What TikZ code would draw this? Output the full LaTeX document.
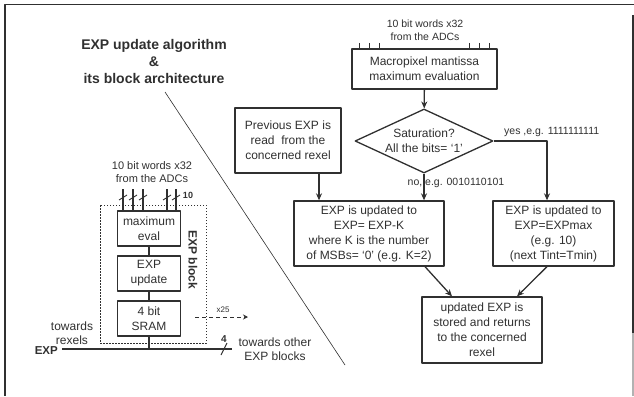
\documentclass[tikz,border=0pt]{standalone}
\usepackage{fontspec}
\setmainfont{Liberation Sans}
\usetikzlibrary{arrows.meta,shapes.geometric}
\definecolor{ink}{HTML}{303030}
\tikzset{
  txt/.style={font=\fontsize{12}{15}\selectfont, text=ink, align=center, inner sep=0pt},
  small/.style={font=\fontsize{10.5}{12.5}\selectfont, text=ink, align=center, inner sep=0pt},
  box/.style={txt, draw=ink, line width=1.3pt},
  sbox/.style={box, minimum width=63pt, minimum height=35pt},
  arr/.style={draw=ink, line width=1.3pt, -{Stealth[length=7pt,width=6pt]}},
  wire/.style={draw=ink, line width=1.6pt},
}
\begin{document}
\begin{tikzpicture}[x=1pt, y=-1pt, line join=round]
\useasboundingbox (0,0) rectangle (634,396);
% frame
\draw[line width=1.8pt, ink] (634,4.5) -- (5,4.5) -- (5,396);
\draw[line width=1.5pt, ink] (633,15) -- (633,333);
\draw[line width=1.5pt, black!30] (633,333) -- (633,396);

% title and diagonal
\node[font=\fontsize{14}{17}\selectfont\bfseries, text=ink, align=center, inner sep=0pt] (title) at (154,61)
  {EXP update algorithm\\\&\\its block architecture};
\coordinate (d1) at (165,92); \coordinate (d2) at (345,365);
\draw[ink, line width=0.6pt] (d1) -- (d2);

% flowchart
\node[small] (adc) at (425,30) {10 bit words x32\\from the ADCs};
\node[box, minimum width=145pt, minimum height=40pt] (macro) at (424.5,69) {Macropixel mantissa\\maximum evaluation};
\foreach \x in {359,369,379,469,479,489} \draw[ink, line width=0.8pt] (\x,43) -- (\x,43 |- macro.north);
\node[box, shape=diamond, aspect=2.15, minimum width=138pt, minimum height=64pt] (sat) at (424,141) {Saturation?\\All the bits= ‘1’};
\node[box, minimum width=106pt, minimum height=65pt] (prev) at (288,140.5) {Previous EXP is\\read\ \ from the\\concerned rexel};
\node[box, minimum width=150pt, minimum height=65pt] (upk) at (369,233.5) {EXP is updated to\\EXP= EXP-K\\where K is the number\\of MSBs= ‘0’ (e.g. K=2)};
\node[box, minimum width=121pt, minimum height=65pt] (upmax) at (553.5,233.5) {EXP is updated to\\EXP=EXPmax\\(e.g. 10)\\(next Tint=Tmin)};
\node[box, minimum width=120pt, minimum height=66pt] (store) at (482,330) {updated EXP is\\stored and returns\\to the concerned\\rexel};

\draw[arr] (macro) -- (sat);
\draw[arr] (sat.south) -- (sat.south |- upk.north);
\draw[arr] (sat.east) -| ([xshift=-6.5pt]upmax.north);
\draw[arr] ([xshift=31pt]prev.south) -- ([xshift=31pt]prev.south |- upk.north);
\draw[arr] ([xshift=56pt]upk.south) -- ([xshift=-30pt]store.north);
\draw[arr] ([xshift=-6.5pt]upmax.south) -- ([xshift=35pt]store.north);
\node[small, anchor=south west] (yes) at (504,137) {yes ,e.g. 1111111111};
\node[small] (no) at (456,183) {no, e.g. 0010110101};

% block architecture
\node[small, font=\fontsize{11}{13}\selectfont] (adc2) at (152,172.5) {10 bit words x32\\from the ADCs};
\draw[ink, line width=0.9pt, dash pattern=on 1.5pt off 1.5pt] (100,205) rectangle (206,343);
\node[sbox] (maxev) at (149,228.5) {maximum\\eval};
\node[sbox] (upd) at (149,273.5) {EXP\\update};
\node[sbox] (sram) at (149,318.5) {4 bit\\SRAM};
\foreach \x in {123,133,143,167,176} {
  \draw[wire] (\x,189) -- (\x,189 |- maxev.north);
  \draw[ink, line width=0.9pt] (\x-4,200) -- (\x+4,195);
}
\node[font=\fontsize{9}{9}\selectfont\bfseries, text=ink, inner sep=0pt] (ten) at (188,195) {10};
\node[font=\fontsize{12}{12}\selectfont\bfseries, text=ink, rotate=-90, inner sep=0pt] (blk) at (193,260) {EXP block};
\draw[wire] (maxev) -- (upd);
\draw[wire] (upd) -- (sram);

\coordinate (busL) at (62,349); \coordinate (busR) at (232,349);
\draw[ink, line width=2.6pt] (busL) -- (busR);
\draw[wire] (sram.south) -- (sram.south |- busL);
\draw[ink, line width=1pt] (221,355) -- (227,343);
\node[font=\fontsize{10}{10}\selectfont\bfseries, text=ink, inner sep=0pt] (four) at (224,339) {4};
\node[font=\fontsize{11.5}{11.5}\selectfont\bfseries, text=ink, anchor=east, inner sep=0pt] (exp) at (58,351) {EXP};
\node[txt, font=\fontsize{12}{14}\selectfont] (torex) at (72,333) {towards\\rexels};
\node[txt, font=\fontsize{12}{14}\selectfont] (tooth) at (275,349) {towards other\\EXP blocks};

\coordinate (x1) at (195,317); \coordinate (x2) at (248,317);
\draw[ink, line width=1pt, dash pattern=on 4pt off 3pt, -{Stealth[length=5pt,width=5pt]}] (x1) -- (x2);
\node[font=\fontsize{8}{8}\selectfont, text=ink, inner sep=0pt] (x25) at (223,310) {x25};
\end{tikzpicture}
\end{document}
